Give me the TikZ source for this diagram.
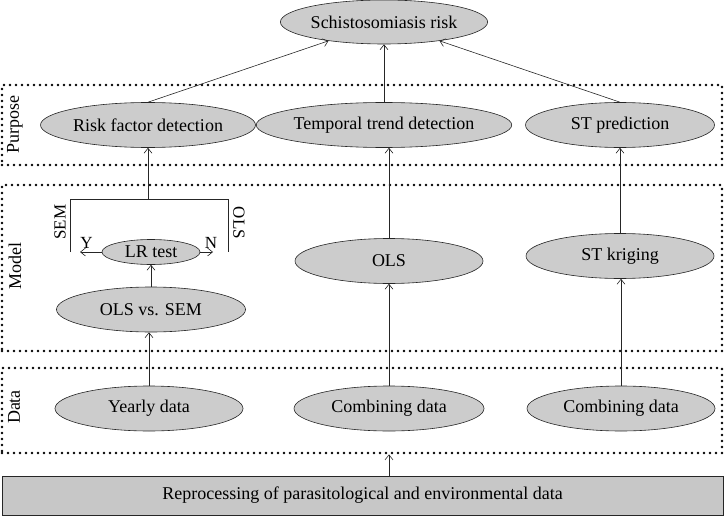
\documentclass[tikz,border=0pt]{standalone}
\usepackage{fontspec}
\setmainfont{Liberation Serif}
\usetikzlibrary{shapes.geometric,arrows.meta}
\tikzstyle{connector} = [line width=0.6pt,->,draw=black!85]
\tikzstyle{oval} = [ellipse, draw=black!85, fill=black!20, line width=0.6pt, inner sep=0pt, minimum width=188pt, minimum height=45pt]
\tikzstyle{band} = [draw, line width=2.8pt, dash pattern=on 0pt off 6pt, line cap=round, inner sep=0pt, minimum width=720pt]

\begin{document}
\begin{tikzpicture}[x=1pt, y=-1pt, font=\fontsize{18}{21}\selectfont, >={Straight Barb[length=5pt,width=8pt]}]
        \useasboundingbox (0,0) rectangle (725,516);
        % dotted layers
        \node (purpose-band) [band, minimum height=80pt] at (362,125) {};
        \node (model-band) [band, minimum height=166pt] at (362,268) {};
        \node (data-band) [band, minimum height=85pt] at (362,410.5) {};
        \node (purpose-label) [rotate=90] at (15,125) {Purpose};
        \node (model-label) [rotate=90] at (15,266) {Model};
        \node (data-label) [rotate=90] at (14,407) {Data};
        % nodes
        \node (schisto) [oval, minimum width=190pt, minimum height=44pt] at (384,22) {Schistosomiasis risk};
        \node (factor) [oval, minimum width=215pt] at (148,125) {Risk factor detection};
        \node (trend) [oval, minimum width=205pt] at (384,125) {Temporal trend detection};
        \node (stpred) [oval, minimum width=189pt] at (620,125) {ST prediction};
        \node (lrtest) [oval, minimum width=98pt, minimum height=25pt] at (151,252) {LR test};
        \node (olssem) [oval, minimum width=189pt] at (151,309.5) {OLS vs. SEM};
        \node (ols) [oval] at (389,261) {OLS};
        \node (kriging) [oval] at (620,256) {ST kriging};
        \node (yearly) [oval] at (149,408.5) {Yearly data};
        \node (combine-1) [oval, minimum width=190pt] at (389,408.5) {Combining data};
        \node (combine-2) [oval] at (621,408.5) {Combining data};
        \node (reproc) [rectangle, draw=black!85, fill=black!22, line width=0.6pt, minimum width=721pt, minimum height=39pt] at (362.5,495.5) {Reprocessing of parasitological and environmental data};
        % LR test bracket
        \coordinate (y-end) at (70,252);
        \coordinate (y-tip) at (80,252);
        \coordinate (n-end) at (228,252);
        \coordinate (n-tip) at (213,252);
        \coordinate (br-left) at (70,199);
        \coordinate (br-right) at (228,199);
        \coordinate (br-mid) at (148,199);
        \draw [line width=0.6pt,draw=black!85] (y-end) -- (br-left) -- (br-right) -- (n-end);
        \draw [connector] (lrtest.west) -- node[above=0pt,pos=0.7,font=\fontsize{17}{20}\selectfont] {Y} (y-tip);
        \draw [connector] (lrtest.east) -- node[above=0pt,pos=0.85,font=\fontsize{17}{20}\selectfont] {N} (n-tip);
        \node (sem-label) [rotate=90, font=\fontsize{17}{20}\selectfont] at (60,222) {SEM};
        \node (ols-label) [rotate=-90, font=\fontsize{17}{20}\selectfont] at (239,223) {OLS};
        % connectors
        \draw [connector] (br-mid) -- (factor.south);
        \draw [connector] (olssem.north -| lrtest) -- (lrtest.south);
        \draw [connector] (yearly.north) -- (olssem.south -| yearly);
        \draw [connector] (combine-1.north) -- (ols.south);
        \draw [connector] (ols.north) -- (trend.south -| ols);
        \draw [connector] (combine-2.north) -- (kriging.south -| combine-2);
        \draw [connector] (kriging.north) -- (stpred.south -| kriging);
        \draw [connector] (factor.north) -- (schisto);
        \draw [connector] (trend.north) -- (schisto.south);
        \draw [connector] (stpred.north) -- (schisto);
        \draw [connector] (reproc.north -| combine-1) -- (data-band.south -| combine-1);
    \end{tikzpicture}
\end{document}
